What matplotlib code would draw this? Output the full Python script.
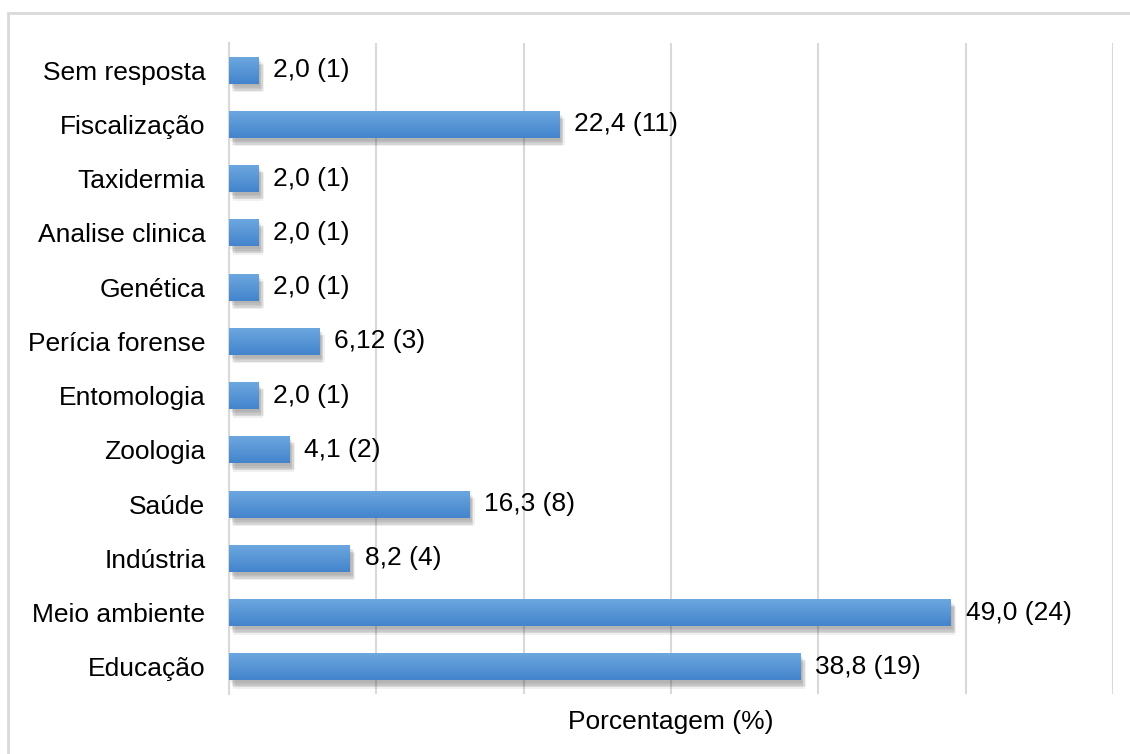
import matplotlib.pyplot as plt
from matplotlib.patches import Rectangle
from matplotlib.colors import LinearSegmentedColormap
import matplotlib.patheffects as pe
import numpy as np

plt.rcParams['font.family'] = ['Liberation Sans', 'DejaVu Sans']

categorias = ['Educação', 'Meio ambiente', 'Indústria', 'Saúde', 'Zoologia',
              'Entomologia', 'Perícia forense', 'Genética', 'Analise clinica',
              'Taxidermia', 'Fiscalização', 'Sem resposta']
porcentagem = [38.8, 49.0, 8.2, 16.3, 4.1, 2.0, 6.12, 2.0, 2.0, 2.0, 22.4, 2.0]
rotulos = ['38,8 (19)', '49,0 (24)', '8,2 (4)', '16,3 (8)', '4,1 (2)', '2,0 (1)',
           '6,12 (3)', '2,0 (1)', '2,0 (1)', '2,0 (1)', '22,4 (11)', '2,0 (1)']

fig = plt.figure(figsize=(11.3, 7.54), dpi=100)
ax = fig.add_axes([229/1130, 1 - 694/754, (1113 - 229)/1130, (694 - 43)/754])

# border around the chart area
fig.patches.append(Rectangle((8/1130, -0.05), 1.2, 1 - 13/754 + 0.05,
                             transform=fig.transFigure, fill=False,
                             edgecolor='#d9d9d9', linewidth=2, zorder=0))

# soft shadow: several faint offset copies
sombra = [pe.SimplePatchShadow(offset=(dx, -dy), shadow_rgbFace='#333333', alpha=0.07)
          for dx, dy in [(1, 2), (2, 3), (3, 4), (2, 5), (4, 5), (3, 6)]]

y = np.arange(len(categorias))
h = 0.5
bars = ax.barh(y, porcentagem, height=h, color='#5b9bd9', zorder=3,
               path_effects=sombra + [pe.Normal()])

# vertical gradient on each bar (lighter on top)
grad = np.linspace(0, 1, 64).reshape(-1, 1)
cmap = LinearSegmentedColormap.from_list('g', ['#6ea8e0', '#4384cc'])
for b in bars:
    x0, y0 = b.get_x(), b.get_y()
    im = ax.imshow(grad, extent=(x0, x0 + b.get_width(), y0, y0 + b.get_height()),
                   cmap=cmap, aspect='auto', zorder=4, origin='upper')
    im.set_clip_path(b)

for yi, v, r in zip(y, porcentagem, rotulos):
    ax.text(v + 1.0, yi, r, va='center', ha='left', fontsize=19, color='black', zorder=5)

ax.set_xlim(0, 60)
ax.set_ylim(-0.5, len(categorias) - 0.5)
ax.set_xticks(np.arange(0, 61, 10))
ax.set_xticklabels([])
ax.set_yticks(y)
ax.set_yticklabels(categorias, fontsize=19)
ax.tick_params(axis='both', length=0)
ax.tick_params(axis='y', pad=17)
ax.grid(axis='x', color='#d9d9d9', linewidth=1.5, zorder=0)
ax.set_axisbelow(True)
for s in ['top', 'right', 'bottom']:
    ax.spines[s].set_visible(False)
ax.spines['left'].set_color('#d9d9d9')
ax.spines['left'].set_linewidth(1.5)
ax.set_xlabel('Porcentagem (%)', fontsize=19, labelpad=8)

fig.savefig('out.png', dpi=100)
